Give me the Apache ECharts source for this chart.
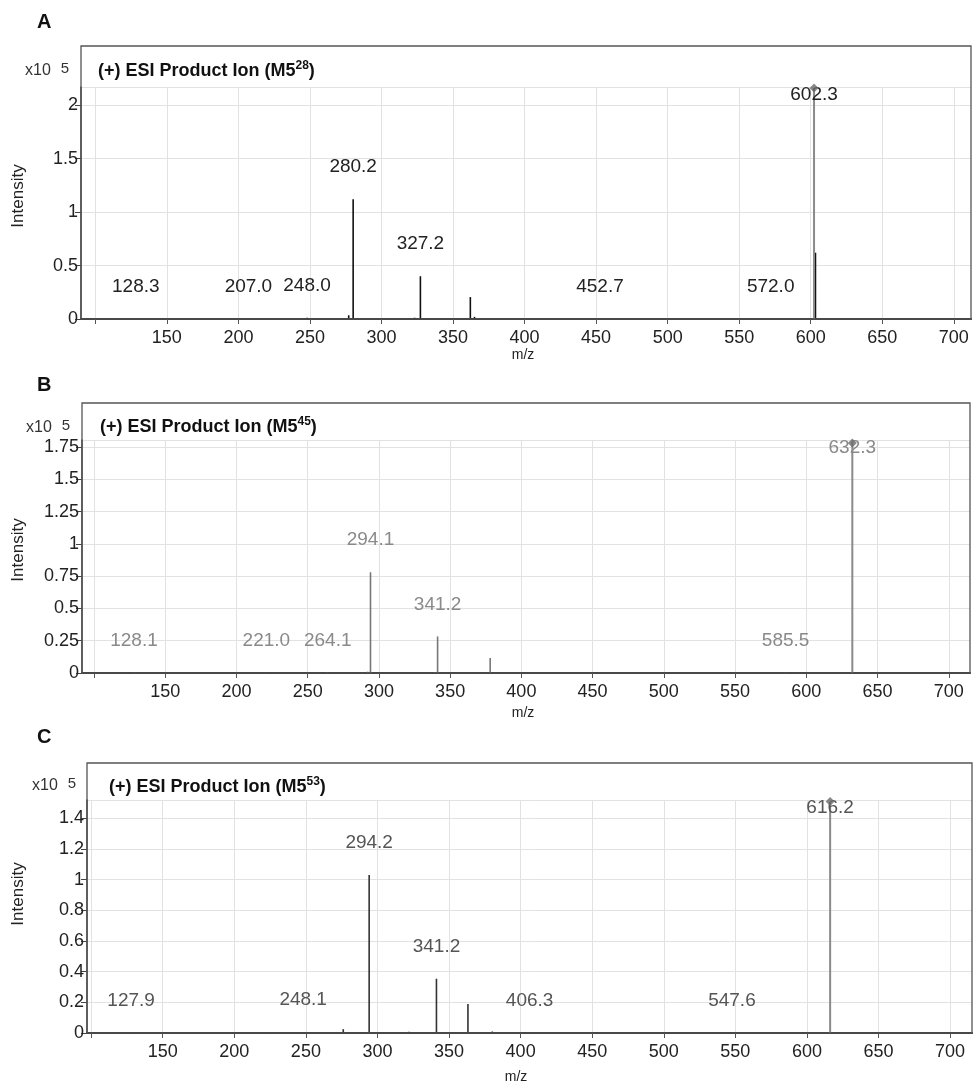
<!DOCTYPE html>
<html><head><meta charset="utf-8">
<script src="https://cdn.jsdelivr.net/npm/echarts@6/dist/echarts.min.js"></script>
<style>html,body{margin:0;padding:0;background:#fff}#c{width:974px;height:1086px}</style>
</head><body><div id="c"></div>
<script>
// ---------- data ----------
const xTickValues  = [100,150,200,250,300,350,400,450,500,550,600,650,700];
const xLabelValues = [150,200,250,300,350,400,450,500,550,600,650,700];

// Panel A  (M5^28)
const aMz  = [128.3, 207.0, 248.0, 277.1, 280.2, 323.1, 327.2, 362.1, 365.0, 452.7, 572.0, 603.3, 602.3];
const aInt = [0.005, 0.004, 0.012, 0.035, 1.12,  0.012, 0.40,  0.205, 0.02,  0.004, 0.004, 0.62,  2.16];
const aLabelMz = [128.3, 207.0, 248.0, 280.2, 327.2, 452.7, 572.0, 602.3];

// Panel B  (M5^45)
const bMz  = [128.1, 221.0, 264.1, 292.1, 294.1, 339.2, 341.2, 378.1, 585.5, 632.3];
const bInt = [0.003, 0.003, 0.005, 0.01,  0.78,  0.005, 0.283, 0.116, 0.003, 1.78];
const bLabelMz = [128.1, 221.0, 264.1, 294.1, 341.2, 585.5, 632.3];

// Panel C  (M5^53)
const cMz  = [127.9, 221.0, 248.1, 276.1, 294.2, 322.1, 341.2, 363.2, 380.2, 406.3, 547.6, 616.2];
const cInt = [0.004, 0.004, 0.006, 0.025, 1.03,  0.008, 0.354, 0.19,  0.01,  0.003, 0.003, 1.51];
const cLabelMz = [127.9, 248.1, 294.2, 341.2, 406.3, 547.6, 616.2];

const titles = ['28', '45', '53'];
const letters = ['A', 'B', 'C'];

// ---------- layout ----------
const FONT = '"Liberation Sans", Arial, sans-serif';
const panels = [
  {mz:aMz, it:aInt, lab:aLabelMz, xmin:90,   xmax:712,   ymax:2.17, yint:0.5,
   grid:{left:81, top:87, width:890, height:232}, box:[81,46,890,273],
   stick:'#111', labelColor:'#222', letterY:22, titleX:98, titleY:71, x10:[25,71], nameY:196, mzPos:[523,355]},
  {mz:bMz, it:bInt, lab:bLabelMz, xmin:91.6, xmax:714.9, ymax:1.804, yint:0.25,
   grid:{left:82, top:440, width:888, height:233}, box:[82,403,888,270],
   stick:'#777', labelColor:'#8a8a8a', letterY:385, titleX:100, titleY:427, x10:[26,428], nameY:550, mzPos:[523,713]},
  {mz:cMz, it:cInt, lab:cLabelMz, xmin:97.1, xmax:715.3, ymax:1.52, yint:0.2,
   grid:{left:87, top:800, width:885, height:233}, box:[87,763,885,270],
   stick:'#333', labelColor:'#555', letterY:737, titleX:109, titleY:787, x10:[32,786], nameY:894, mzPos:[516,1077]}
];

const grids=[], xAxes=[], yAxes=[], series=[], graphics=[];

panels.forEach((p, i) => {
  grids.push(Object.assign({outerBoundsMode:'none', containLabel:false}, p.grid));
  xAxes.push({
    type:'value', gridIndex:i, min:p.xmin, max:p.xmax,
    axisLine:{show:true, onZero:false, lineStyle:{color:'#222', width:2}},
    axisTick:{show:true, length:5, customValues:xTickValues, lineStyle:{color:'#555'}},
    axisLabel:{customValues:xLabelValues, fontSize:18, fontFamily:FONT, color:'#222', margin:10},
    splitLine:{show:true, lineStyle:{color:'#e2e2e2', width:1}}
  });
  yAxes.push({
    type:'value', gridIndex:i, min:0, max:p.ymax, interval:p.yint,
    axisLine:{show:true, lineStyle:{color:'#444', width:1.5}},
    axisTick:{show:true, length:6, lineStyle:{color:'#444'}},
    axisLabel:{fontSize:18, fontFamily:FONT, color:'#222', margin:3, showMaxLabel:false},
    splitLine:{show:true, lineStyle:{color:'#e2e2e2', width:1}}
  });
  const maxVal = Math.max.apply(null, p.it);
  const maxIdx = p.it.indexOf(maxVal);
  series.push({
    type:'custom', xAxisIndex:i, yAxisIndex:i, z:3,
    data:p.mz.map((m,k)=>[m, p.it[k]]),
    encode:{x:0, y:1},
    renderItem:function(params, api){
      const x = api.value(0), y = api.value(1);
      const p0 = api.coord([x, 0]);
      const p1 = api.coord([x, y]);
      const isMax = y === maxVal;
      return {type:'line', shape:{x1:p0[0], y1:p0[1], x2:p1[0], y2:p1[1]},
              style:{stroke: isMax ? '#8a8a8a' : p.stick, lineWidth: isMax ? 2 : 1.6}};
    }
  });
  series.push({
    type:'custom', xAxisIndex:i, yAxisIndex:i, z:4,
    data:p.lab.map(m=>{ const k=p.mz.indexOf(m); return [m, p.it[k]]; }),
    encode:{x:0, y:1},
    renderItem:function(params, api){
      const x = api.value(0), y = api.value(1);
      const pt = api.coord([x, y]);
      const top = params.coordSys.y;
      let cy = pt[1] - 32;
      if (cy < top + 8) cy = top + 8;
      return {type:'text', style:{text:x.toFixed(1), x:pt[0], y:cy, align:'center', verticalAlign:'middle',
              font:'19px ' + FONT, fill:p.labelColor}};
    }
  });
  series.push({
    type:'scatter', xAxisIndex:i, yAxisIndex:i, z:5, symbol:'diamond', symbolSize:[9,9],
    itemStyle:{color:'#6a6a6a'}, data:[[p.mz[maxIdx], maxVal]], silent:true
  });

  const [bx,by,bw,bh] = p.box;
  graphics.push({type:'rect', shape:{x:bx, y:by, width:bw, height:bh}, style:{fill:null, stroke:'#555', lineWidth:1.3}, z:10});
  graphics.push({type:'text', x:37, y:p.letterY, style:{text:letters[i], font:'bold 20px ' + FONT, fill:'#111', verticalAlign:'middle'}});
  graphics.push({type:'text', x:p.titleX, y:p.titleY, style:{
    text:'{b|(+) ESI Product Ion (M5}{s|' + titles[i] + '}{b|)}', verticalAlign:'middle', fill:'#111',
    rich:{b:{font:'bold 18px ' + FONT, fill:'#111', lineHeight:22}, s:{font:'bold 12px ' + FONT, fill:'#111', lineHeight:13, verticalAlign:'top'}}}});
  graphics.push({type:'text', x:p.x10[0], y:p.x10[1], style:{
    text:'{n|x10}{s|5}', verticalAlign:'middle',
    rich:{n:{font:'16px ' + FONT, fill:'#333', lineHeight:20}, s:{font:'15px ' + FONT, fill:'#333', lineHeight:16, verticalAlign:'top', padding:[0,0,0,10]}}}});
  graphics.push({type:'text', x:18, y:p.nameY, rotation:Math.PI/2, style:{text:'Intensity', font:'17px ' + FONT, fill:'#222', align:'center', verticalAlign:'middle'}});
  graphics.push({type:'text', x:p.mzPos[0], y:p.mzPos[1], style:{text:'m/z', font:'14px ' + FONT, fill:'#222', align:'center', verticalAlign:'middle'}});
});

const chart = echarts.init(document.getElementById('c'), null, {renderer:'canvas'});
chart.setOption({
  animation:false,
  backgroundColor:'#fff',
  grid:grids, xAxis:xAxes, yAxis:yAxes, series:series, graphic:graphics
});
</script></body></html>
